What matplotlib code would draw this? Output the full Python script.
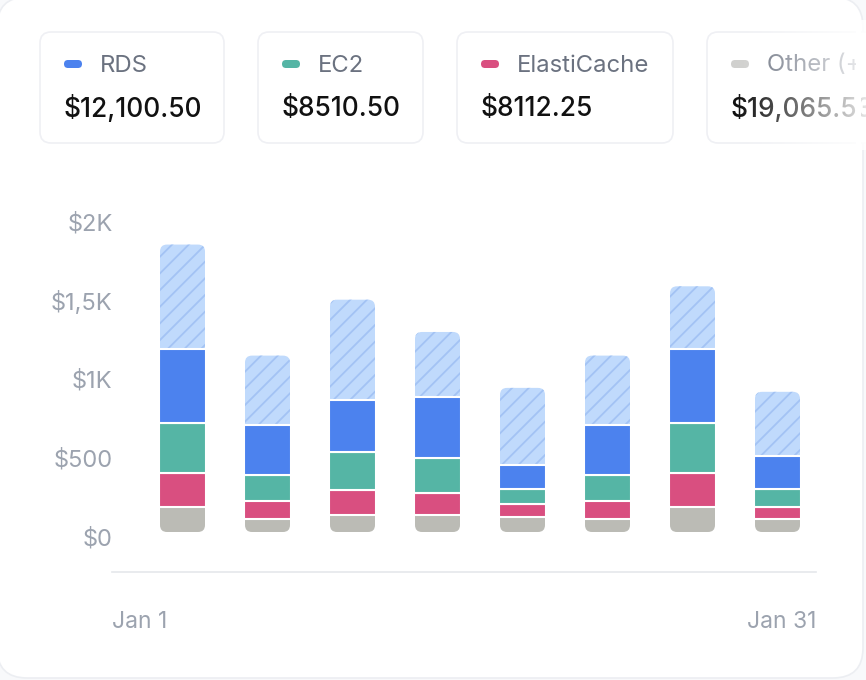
import numpy as np
import matplotlib.pyplot as plt
from matplotlib.patches import FancyBboxPatch
from matplotlib.transforms import ScaledTranslation, IdentityTransform

plt.rcParams["font.family"] = ["Inter", "DejaVu Sans"]
plt.rcParams["hatch.linewidth"] = 1.3

# Summary cards
services = ["RDS", "EC2", "ElastiCache", "Other (+"]
service_totals = ["$12,100.50", "$8510.50", "$8112.25", "$19,065.53"]
dot_colors = ["#4c82ee", "#55b5a5", "#d94f80", "#d0d0ce"]

# Daily cost stacks (USD)
other = [160, 85, 110, 110, 95, 85, 160, 85]
elasticache = [215, 115, 155, 140, 80, 115, 215, 75]
ec2 = [315, 165, 240, 220, 100, 165, 315, 115]
rds = [470, 315, 330, 390, 150, 315, 470, 205]
projected = [665, 440, 640, 410, 490, 440, 400, 410]

y_ticks = [0, 500, 1000, 1500, 2000]
y_labels = ["$0", "$500", "$1K", "$1,5K", "$2K"]
x_labels = ["Jan 1", "Jan 31"]

W, H = 866, 680
fig = plt.figure(figsize=(W / 100, H / 100), dpi=100, facecolor="#f8f9fb")

# background layer in pixel coordinates
bg = fig.add_axes([0, 0, 1, 1], zorder=0)
bg.set_xlim(0, W)
bg.set_ylim(H, 0)
bg.axis("off")

bg.add_patch(FancyBboxPatch((-3, -3), 866, 681, boxstyle="round,pad=0,rounding_size=30",
                            facecolor="white", edgecolor="#eceef2", linewidth=1.2))

card_x = [40, 258, 457, 707]
card_w = [184, 165, 216, 200]
for i, name in enumerate(services):
    x0 = card_x[i]
    bg.add_patch(FancyBboxPatch((x0, 32), card_w[i], 111, boxstyle="round,pad=0,rounding_size=11",
                                facecolor="white", edgecolor="#eff0f4", linewidth=1.2))
    bg.add_patch(FancyBboxPatch((x0 + 24, 60), 18, 8, boxstyle="round,pad=0,rounding_size=4",
                                facecolor=dot_colors[i], edgecolor="none"))
    bg.text(x0 + 60, 65.5, name, fontsize=17.2, color="#6b7280", va="center", ha="left")
    bg.text(x0 + 24, 109.5, service_totals[i], fontsize=18.9, color="#111111", va="center",
            ha="left", fontweight="medium")

# fade out the last card
fade = np.ones((10, 300, 4))
fade[..., 3] = np.linspace(0, 1.0, 300)[None, :] ** 1.1
bg.imshow(fade, extent=[735, 880, 150, 20], aspect="auto", zorder=10, interpolation="bilinear")
bg.add_patch(plt.Rectangle((856, 20), 5, 130, facecolor="white", edgecolor="none", zorder=11))
bg.set_xlim(0, W)
bg.set_ylim(H, 0)

# chart axes
ax = fig.add_axes([112 / W, (H - 572) / H, 704 / W, (572 - 200) / H], zorder=1)
ax.patch.set_alpha(0)
px_x = 85.0
px_y = 0.1575
ax.set_xlim((112 - 182.5) / px_x, (816 - 182.5) / px_x)
ax.set_ylim(-(572 - 532) / px_y, (532 - 200) / px_y)

x = np.arange(len(rds))
width = 47 / px_x
mid_stacks = [elasticache, ec2, rds]
mid_colors = ["#d94f80", "#55b5a5", "#4c82ee"]
ext = 8  # px the rounded end pieces reach under their neighbour


def rounded_piece(xc, y0, y1, grow_up, **kw):
    # rounded box in pixels, lengthened so the square end hides under the next bar
    (xl, yb), (xr, yt) = ax.transData.transform([(xc - width / 2, y0), (xc + width / 2, y1)])
    if grow_up:
        yt += ext
    else:
        yb -= ext
    p = FancyBboxPatch((xl + 1, yb), xr - xl - 2, yt - yb, boxstyle="round,pad=0,rounding_size=7",
                       transform=IdentityTransform(), zorder=1, **kw)
    ax.add_patch(p)


bottom = np.array(other, dtype=float)
for i in range(len(x)):
    rounded_piece(x[i], 0, other[i], True, facecolor="#bbbbb5", edgecolor="none")

for vals, c in zip(mid_stacks, mid_colors):
    ax.bar(x, vals, width, bottom=bottom, color=c, edgecolor="white", linewidth=1.5, zorder=2)
    bottom += vals

for i in range(len(x)):
    rounded_piece(x[i], bottom[i], bottom[i] + projected[i], False,
                  facecolor="#c0dafc", edgecolor="#a3c3f4", linewidth=0, hatch="//")

for s in ["top", "right", "left"]:
    ax.spines[s].set_visible(False)
ax.spines["bottom"].set_color("#e5e7eb")
ax.spines["bottom"].set_linewidth(1.2)

ax.set_yticks(y_ticks)
ax.set_yticklabels(y_labels)
ax.tick_params(axis="y", length=0, pad=-0.5, labelsize=17, labelcolor="#9ca3af")
off = ScaledTranslation(0, -4.5 / 100, fig.dpi_scale_trans)
for lab in ax.get_yticklabels():
    lab.set_transform(lab.get_transform() + off)

ax.set_xticks([])
ax.text(0, -50 / 372, x_labels[0], transform=ax.transAxes, ha="left", va="center",
        fontsize=16.5, color="#9ca3af")
ax.text(1, -50 / 372, x_labels[1], transform=ax.transAxes, ha="right", va="center",
        fontsize=16.5, color="#9ca3af")

fig.savefig("out.png", dpi=100, facecolor=fig.get_facecolor())
